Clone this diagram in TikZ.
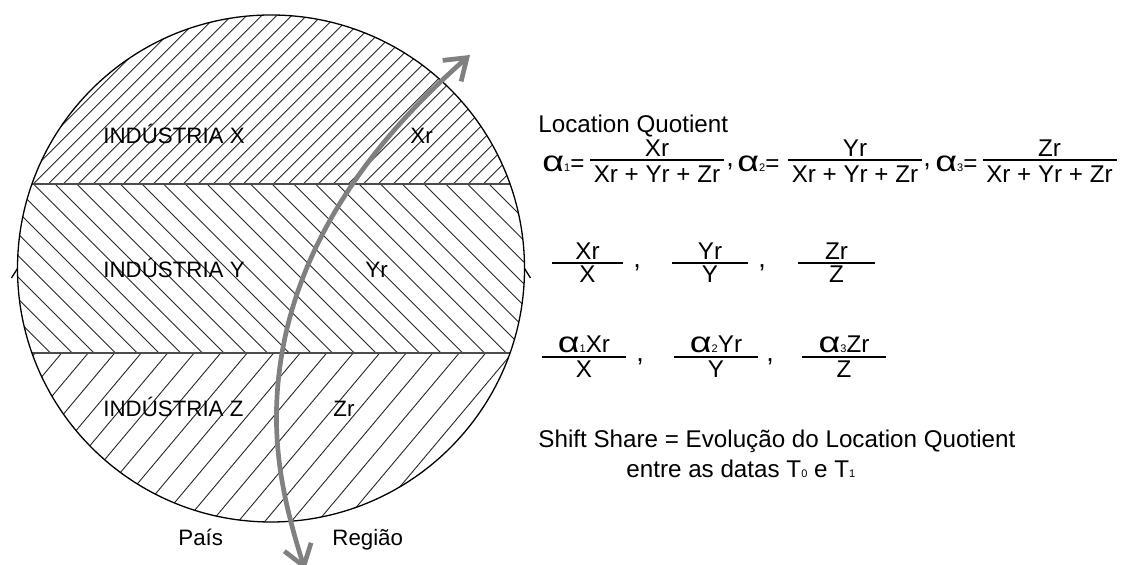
\documentclass[tikz,border=0pt]{standalone}
\usepackage{fontspec}
\setmainfont{Liberation Sans}
\usepackage{graphicx}
\usetikzlibrary{arrows.meta,positioning}

\newcommand{\lblfont}{\fontsize{11.15}{13}\selectfont}
\newcommand{\rtfont}{\fontsize{12.1}{14}\selectfont}
\newcommand{\sub}[1]{{\fontsize{5.5}{6}\selectfont #1}}
\newcommand{\alf}[1]{\scalebox{1.3}[1]{\fontsize{14.5}{15}\selectfont α}\sub{#1}}

\tikzset{
  hatch/.style={line width=0.45pt, black!85},
  border/.style={line width=0.65pt, black},
  bandline/.style={line width=0.8pt, black!70},
  flow/.style={line width=2.35pt, black!50,
    {Straight Barb[length=10pt,width=14pt]}-{Straight Barb[length=10pt,width=14pt]}},
  lbl/.style={font=\lblfont, inner sep=0pt, anchor=base west},
  rt/.style={font=\rtfont, inner sep=0pt, anchor=base west},
  rtc/.style={font=\rtfont, inner sep=0pt, anchor=base},
  commatxt/.style={font=\fontsize{13.5}{14}\selectfont, inner sep=0pt, anchor=base west},
  fracbar/.style={line width=0.65pt, black}
}

\begin{document}
\begin{tikzpicture}[x=0.5pt, y=-0.5pt]
	\useasboundingbox (0,0) rectangle (1121,565);
	\coordinate (centre) at (271,268.5);

	% hatch of the three bands
	\begin{scope}
		\clip (centre) circle (253.5);
		\clip (0,0) rectangle (1121,184);
		\foreach \x in {-26.7,-11.7,...,525}
			\draw[hatch] (\x,184) -- ++(220,-220);
	\end{scope}
	\begin{scope}
		\clip (centre) circle (253.5);
		\clip (0,184) rectangle (1121,353);
		\foreach \x in {-183.6,-161.9,...,525}
			\draw[hatch] (\x,184) -- ++(169,169);
	\end{scope}
	\begin{scope}
		\clip (centre) circle (253.5);
		\clip (0,353) rectangle (1121,565);
		\foreach \x in {8.7,35.2,...,690}
			\draw[hatch] (\x,353) -- ++(-141.8,169);
	\end{scope}

	% circle, band borders and side ticks
	\draw[bandline] (32,184) -- (510,184);
	\draw[bandline] (32,353) -- (510,353);
	\draw[border] (centre) circle (253.5);
	\draw[border] (17.5,268.5) -- (11.5,278);
	\draw[border] (524.5,268.5) -- (530.5,278);

	% labels inside the circle
	\node[lbl] (indX) at (103,144) {INDÚSTRIA X};
	\node[lbl] (regX) at (410,144) {Xr};
	\node[lbl] (indY) at (103,278) {INDÚSTRIA Y};
	\node[lbl] (regY) at (365,278) {Yr};
	\node[lbl] (indZ) at (103,417) {INDÚSTRIA Z};
	\node[lbl] (regZ) at (333,417) {Zr};
	\node[lbl] (pais) at (178,546) {País};
	\node[lbl] (regiao) at (332,546) {Região};

	% the curved border between country and region
	\coordinate (flowS) at (305,570);
	\coordinate (flowM) at (282,353);
	\coordinate (flowE) at (470,55);
	\draw[flow] (flowS) .. controls (281,494) and (268.6,431.9) .. (flowM)
		.. controls (304,225) and (387.5,127.6) .. (flowE);

	% Location Quotient
	\node[rt] (lqTitle) at (538,133) {Location Quotient};
	\foreach \i/\ax/\cx/\nm in {1/542/657/Xr, 2/737/855/Yr, 3/935/1049.5/Zr}{
		\node[rt] (lqA\i) at (\ax,172) {\alf{\i}=};
		\node[rtc] (lqN\i) at (\cx,157) {\nm};
		\draw[fracbar] ({\cx-67},160) -- ({\cx+67},160);
		\node[rtc] (lqD\i) at (\cx,183) {Xr + Yr + Zr};
	}
	\node[commatxt] (lqC1) at (726,167) {,};
	\node[commatxt] (lqC2) at (923,167) {,};

	% shares of the region
	\foreach \i/\cx/\w/\nm/\dn in {1/587.5/35.5/Xr/X, 2/710/38/Yr/Y, 3/836.5/38.5/Zr/Z}{
		\node[rtc] (shN\i) at (\cx,260) {\nm};
		\draw[fracbar] ({\cx-\w},263) -- ({\cx+\w},263);
		\node[rtc] (shD\i) at (\cx,283) {\dn};
	}
	\node[commatxt] (shC1) at (633,268) {,};
	\node[commatxt] (shC2) at (758,268) {,};

	% weighted shares
	\foreach \i/\cx/\nm/\dn in {1/584/Xr/X, 2/716/Yr/Y, 3/844/Zr/Z}{
		\node[rtc] (wN\i) at (\cx,353) {\alf{\i}\nm};
		\draw[fracbar] ({\cx-42},357) -- ({\cx+42},357);
		\node[rtc] (wD\i) at (\cx,378) {\dn};
	}
	\node[commatxt] (wC1) at (636,362) {,};
	\node[commatxt] (wC2) at (766,362) {,};

	% Shift Share
	\node[rt] (shift) at (538,448) {Shift Share = Evolução do Location Quotient};
	\node[rt] (dates) at (626,478) {entre as datas T\sub{0} e T\sub{1}};
\end{tikzpicture}
\end{document}
